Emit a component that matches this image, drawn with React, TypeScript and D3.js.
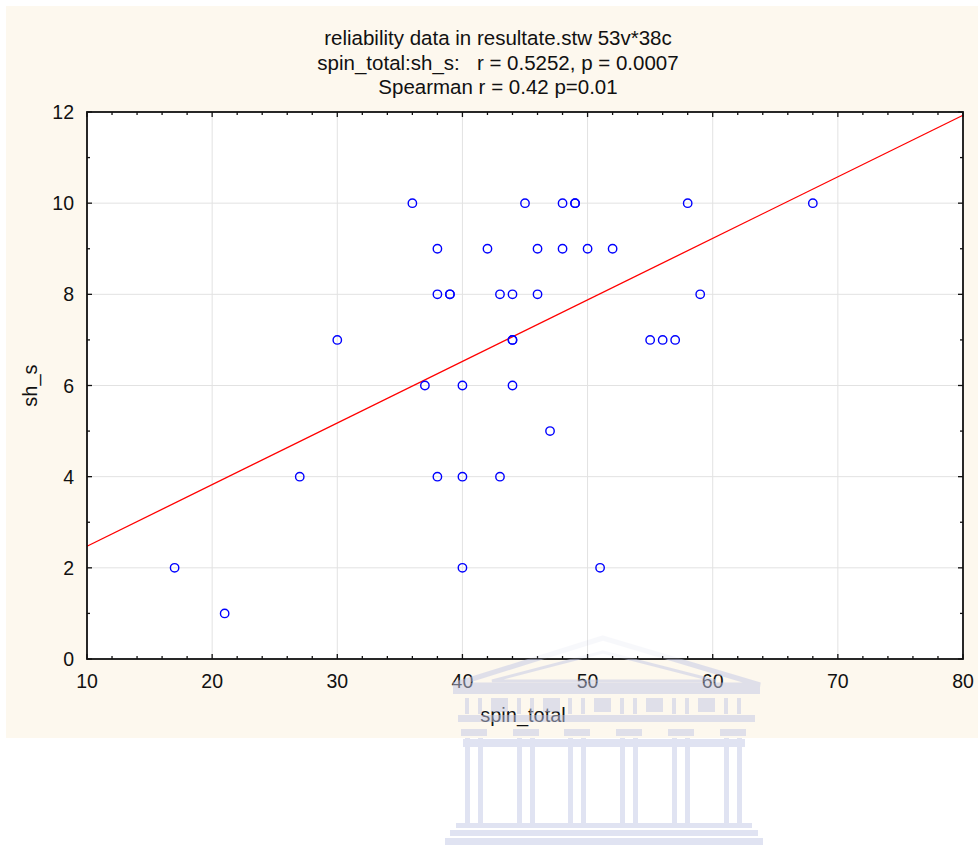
import * as d3 from 'd3';
import { useEffect, useRef } from 'react';

// spin_total (x) / sh_s (y) pairs, 38 cases
const spinTotal = [
  36, 45, 48, 49, 49, 58, 68,
  38, 42, 46, 48, 50, 52,
  38, 39, 39, 43, 44, 46, 59,
  30, 44, 44, 55, 56, 57,
  37, 40, 44,
  47,
  27, 38, 40, 43,
  17, 40, 51,
  21,
];
const shS = [
  10, 10, 10, 10, 10, 10, 10,
  9, 9, 9, 9, 9, 9,
  8, 8, 8, 8, 8, 8, 8,
  7, 7, 7, 7, 7, 7,
  6, 6, 6,
  5,
  4, 4, 4, 4,
  2, 2, 2,
  1,
];
const titleLines = [
  'reliability data in resultate.stw 53v*38c',
  'spin_total:sh_s:   r = 0.5252, p = 0.0007',
  'Spearman r = 0.42 p=0.01',
];
const xTicks = [10, 20, 30, 40, 50, 60, 70, 80];
const yTicks = [0, 2, 4, 6, 8, 10, 12];

function App() {
  const svgRef = useRef<SVGSVGElement | null>(null);

  useEffect(() => {
    if (!svgRef.current) return;
    const svg = d3.select(svgRef.current);
    svg.selectAll('*').remove();

    const W = 978, H = 849;
    const margin = { top: 112, right: 15, bottom: 190, left: 87 };
    const innerW = W - margin.left - margin.right;
    const innerH = H - margin.top - margin.bottom;
    const font = '"Liberation Sans", Arial, sans-serif';

    const x = d3.scaleLinear().domain([10, 80]).range([0, innerW]);
    const y = d3.scaleLinear().domain([0, 12]).range([innerH, 0]);

    // outer panel
    svg.append('rect')
      .attr('x', 6).attr('y', 6)
      .attr('width', W - 6).attr('height', 732)
      .attr('fill', '#fdf8ee');

    svg.append('g')
      .attr('font-family', font)
      .attr('font-size', 20.5)
      .attr('fill', '#111')
      .attr('text-anchor', 'middle')
      .style('white-space', 'pre')
      .selectAll('text')
      .data(titleLines)
      .enter().append('text')
      .attr('x', 498)
      .attr('y', (d, i) => 45 + i * 24.5)
      .attr('xml:space', 'preserve')
      .text(d => d);

    const g = svg.append('g')
      .attr('transform', `translate(${margin.left}, ${margin.top})`);

    g.append('rect')
      .attr('width', innerW).attr('height', innerH)
      .attr('fill', 'white');

    // grid
    g.selectAll('.gx')
      .data(xTicks.slice(1, -1))
      .enter().append('line')
      .attr('x1', d => x(d)).attr('x2', d => x(d))
      .attr('y1', 0).attr('y2', innerH)
      .attr('stroke', '#e2e2e2').attr('stroke-width', 1);

    g.selectAll('.gy')
      .data(yTicks.slice(1, -1))
      .enter().append('line')
      .attr('y1', d => y(d)).attr('y2', d => y(d))
      .attr('x1', 0).attr('x2', innerW)
      .attr('stroke', '#e2e2e2').attr('stroke-width', 1);

    // regression line (least squares of the points)
    const mx = d3.mean(spinTotal) as number;
    const my = d3.mean(shS) as number;
    const sxy = d3.sum(spinTotal, (v, i) => (v - mx) * (shS[i] - my));
    const sxx = d3.sum(spinTotal, v => (v - mx) * (v - mx));
    const slope = sxy / sxx;
    const icpt = my - slope * mx;
    const line = d3.line<number>().x(d => x(d)).y(d => y(icpt + slope * d));
    g.append('path')
      .datum([10, 80])
      .attr('d', line)
      .attr('stroke', '#ff0000')
      .attr('stroke-width', 1.3)
      .attr('fill', 'none');

    // points
    g.selectAll('.pt')
      .data(spinTotal)
      .enter().append('circle')
      .attr('cx', d => x(d))
      .attr('cy', (d, i) => y(shS[i]))
      .attr('r', 4.2)
      .attr('fill', 'none')
      .attr('stroke', '#0000ff')
      .attr('stroke-width', 1.4);

    // ticks on all four sides, pointing inward
    const xMinor = d3.range(10, 80.01, 2);
    const yMinor = d3.range(0, 12.01, 1);
    const xLen = (v: number) => (v % 10 === 0 ? 5 : 3);
    const yLen = (v: number) => (v % 2 === 0 ? 5 : 3);
    const ticks = g.append('g').attr('stroke', '#111').attr('stroke-width', 1.3);
    xMinor.forEach(v => {
      ticks.append('line').attr('x1', x(v)).attr('x2', x(v)).attr('y1', innerH).attr('y2', innerH - xLen(v));
      ticks.append('line').attr('x1', x(v)).attr('x2', x(v)).attr('y1', 0).attr('y2', xLen(v));
    });
    yMinor.forEach(v => {
      ticks.append('line').attr('y1', y(v)).attr('y2', y(v)).attr('x1', 0).attr('x2', yLen(v));
      ticks.append('line').attr('y1', y(v)).attr('y2', y(v)).attr('x1', innerW).attr('x2', innerW - yLen(v));
    });

    g.append('rect')
      .attr('width', innerW).attr('height', innerH)
      .attr('fill', 'none')
      .attr('stroke', '#111')
      .attr('stroke-width', 1.8);

    // tick labels
    g.append('g')
      .attr('font-family', font).attr('font-size', 19.5).attr('fill', '#111')
      .attr('text-anchor', 'middle')
      .selectAll('text')
      .data(xTicks)
      .enter().append('text')
      .attr('x', d => x(d))
      .attr('y', innerH + 29)
      .text(d => d);

    g.append('g')
      .attr('font-family', font).attr('font-size', 19.5).attr('fill', '#111')
      .attr('text-anchor', 'end')
      .selectAll('text')
      .data(yTicks)
      .enter().append('text')
      .attr('x', -13)
      .attr('y', d => y(d) + 7)
      .text(d => d);

    // axis titles
    g.append('text')
      .attr('x', innerW / 2 - 2).attr('y', innerH + 63)
      .attr('text-anchor', 'middle')
      .attr('font-family', font).attr('font-size', 20).attr('fill', '#111')
      .text('spin_total');

    g.append('text')
      .attr('transform', `translate(${-50}, ${innerH / 2}) rotate(-90)`)
      .attr('text-anchor', 'middle')
      .attr('font-family', font).attr('font-size', 20).attr('fill', '#111')
      .text('sh_s');

    // faint building watermark
    const defs = svg.append('defs');
    defs.append('clipPath').attr('id', 'wmOut')
      .append('rect').attr('x', 0).attr('y', 659).attr('width', W).attr('height', H);
    defs.append('clipPath').attr('id', 'wmIn')
      .append('rect').attr('x', 0).attr('y', 0).attr('width', W).attr('height', 659);

    const drawWm = (parent: d3.Selection<SVGGElement, unknown, null, undefined>) => {
      const c = '#c3c8e6';
      parent.append('polygon')
        .attr('points', '603,638 453,685 760,685')
        .attr('fill', 'none').attr('stroke', c).attr('stroke-width', 5);
      parent.append('polygon')
        .attr('points', '603,652 492,681 716,681')
        .attr('fill', 'none').attr('stroke', c).attr('stroke-width', 3);
      parent.append('rect').attr('x', 453).attr('y', 686).attr('width', 307).attr('height', 8).attr('fill', c);
      const cols = [474, 526, 577, 629, 681, 733];
      cols.forEach(cx => {
        parent.append('rect').attr('x', cx - 9).attr('y', 698).attr('width', 4).attr('height', 16).attr('fill', c);
        parent.append('rect').attr('x', cx + 4).attr('y', 698).attr('width', 4).attr('height', 16).attr('fill', c);
        parent.append('rect').attr('x', cx - 13).attr('y', 729).attr('width', 26).attr('height', 7).attr('fill', c);
        parent.append('rect').attr('x', cx - 9).attr('y', 738).attr('width', 5).attr('height', 85).attr('fill', c);
        parent.append('rect').attr('x', cx + 4).attr('y', 738).attr('width', 5).attr('height', 85).attr('fill', c);
      });
      cols.slice(0, -1).forEach(cx => {
        parent.append('rect').attr('x', cx + 17).attr('y', 698).attr('width', 17).attr('height', 14).attr('fill', c);
      });
      parent.append('rect').attr('x', 458).attr('y', 715).attr('width', 297).attr('height', 7).attr('fill', c);
      parent.append('rect').attr('x', 463).attr('y', 739).attr('width', 282).attr('height', 8).attr('fill', c);
      parent.append('rect').attr('x', 456).attr('y', 823).attr('width', 296).attr('height', 5).attr('fill', c);
      parent.append('rect').attr('x', 450).attr('y', 830).attr('width', 308).attr('height', 6).attr('fill', c);
      parent.append('rect').attr('x', 445).attr('y', 838).attr('width', 318).attr('height', 7).attr('fill', c);
    };
    drawWm(svg.append('g').attr('clip-path', 'url(#wmOut)').attr('opacity', 0.5));
    drawWm(svg.append('g').attr('clip-path', 'url(#wmIn)').attr('opacity', 0.12));

    return () => {
      d3.select(svgRef.current).selectAll('*').remove();
    };
  }, []);

  return (
    <svg ref={svgRef} width={978} height={849}
      style={{ position: 'absolute', left: 0, top: 0, background: 'white' }} />
  );
}

export default App;
